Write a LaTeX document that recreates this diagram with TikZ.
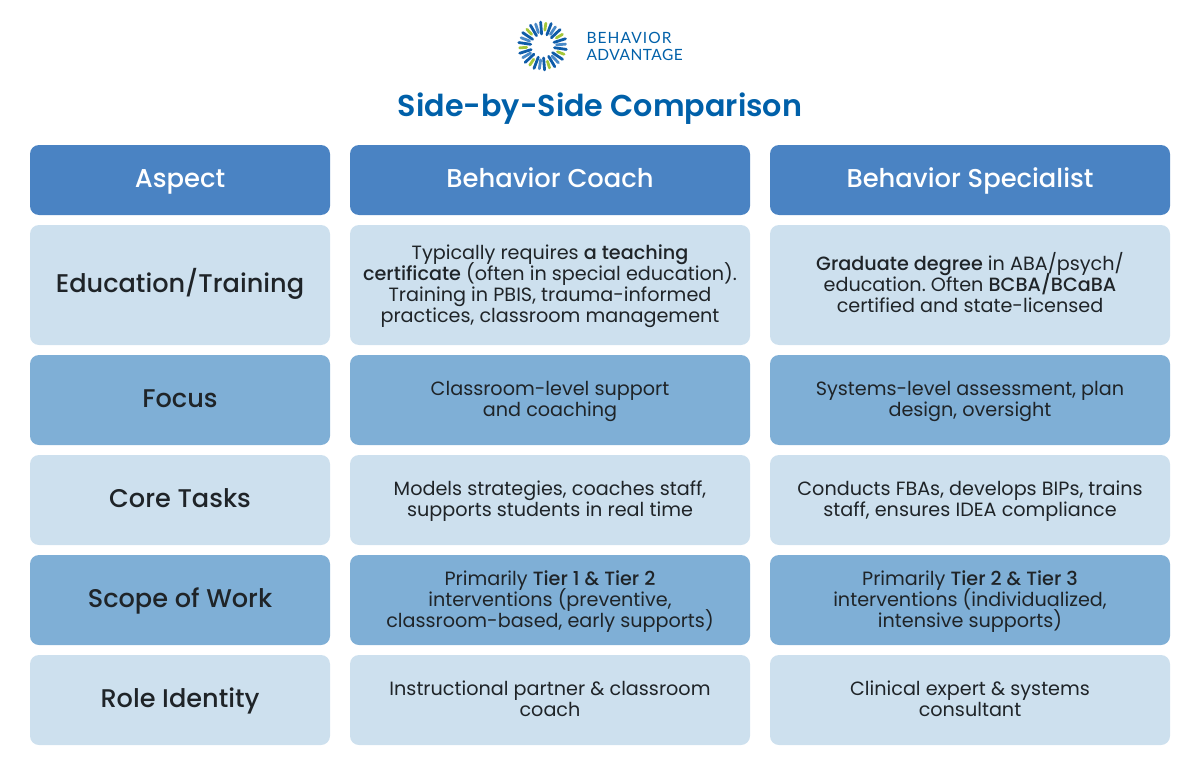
\documentclass[tikz,border=0pt]{standalone}
\usepackage{fontspec}
\setmainfont{Poppins}[BoldFont={Poppins Medium}]
\newfontfamily\medfont{Poppins Medium}
\newfontfamily\semifont{Poppins SemiBold}
\newfontfamily\logofont{Lato}
\frenchspacing
\definecolor{headblue}{HTML}{4A83C3}
\definecolor{lightblue}{HTML}{CDE0EE}
\definecolor{midblue}{HTML}{7FAFD6}
\definecolor{titleblue}{HTML}{0060A9}
\definecolor{inkdark}{HTML}{1F2428}
\definecolor{raydark}{HTML}{0F5CA8}
\definecolor{raymid}{HTML}{4A8AC8}
\definecolor{raygreen}{HTML}{A4C639}
\tikzset{
    cell/.style={rounded corners=9pt, inner sep=0pt, align=center, text=inkdark,
        execute at begin node={\lineskiplimit=-100pt},
        text depth=6.3pt, font=\fontsize{19.2}{21.1}\selectfont},
    rows/.style={text height={#1*21.1pt-2.3pt}},
    headcell/.style={cell, fill=headblue, text=white, minimum height=70pt,
        text height=23.6pt, text depth=8.4pt, font=\medfont\fontsize{25.8}{28}\selectfont},
    labelcell/.style={cell, minimum width=300pt, text height=23.6pt, text depth=8.4pt,
        font=\medfont\fontsize{25.6}{28}\selectfont},
    lightcell/.style={fill=lightblue},
    midcell/.style={fill=midblue}
}
\begin{document}
\begin{tikzpicture}[x=1pt, y=-1pt]
    \useasboundingbox (0,0) rectangle (1200,760);
    % logo rays
    \begin{scope}[shift={(542.6,46)}]
    \foreach \k in {0,...,6} {
        \foreach \n/\rin/\rout/\col in {1/12/24/raydark, 2/14/23/raymid, 3/12/24/raydark, 0/16/23/raygreen} {
            \draw[\col, line width=2.8pt, line cap=round]
                ({21+\k*51.43+\n*12.86}:\rin) -- ({21+\k*51.43+\n*12.86}:\rout);
        }
    }
    \end{scope}
    \node[anchor=west, text=titleblue, font=\logofont\fontsize{15.5}{18}\selectfont] (brandtop) at (583,37.5) {\addfontfeature{LetterSpace=7}BEHAVIOR};
    \node[anchor=west, text=titleblue, font=\logofont\fontsize{15.5}{18}\selectfont] (brandbottom) at (583,54.5) {\addfontfeature{LetterSpace=3}ADVANTAGE};
    \node[text=titleblue, font=\semifont\fontsize{30.2}{34}\selectfont] (title) at (600,109) {Side-by-Side Comparison};
    % header row
    \node[headcell, minimum width=300pt] (aspect) at (180,180) {Aspect};
    \node[headcell, minimum width=400pt] (coach) at (550,180) {Behavior Coach};
    \node[headcell, minimum width=400pt] (specialist) at (970,180) {Behavior Specialist};
    % education
    \node[labelcell, lightcell, minimum height=120pt] (edulabel) at (180,285) {Education/Training};
    \node[cell, rows=4, lightcell, minimum width=400pt, minimum height=120pt] (educoach) at (550,285) {Typically requires \textbf{a teaching}\\\textbf{certificate} (often in special education).\\Training in PBIS, trauma-informed\\practices, classroom management};
    \node[cell, rows=3, lightcell, minimum width=400pt, minimum height=120pt] (eduspec) at (970,285) {\textbf{Graduate degree} in ABA/psych/\\education. Often \textbf{BCBA/BCaBA}\\certified and state-licensed};
    % focus
    \node[labelcell, midcell, minimum height=90pt] (focuslabel) at (180,400) {Focus};
    \node[cell, rows=2, midcell, minimum width=400pt, minimum height=90pt] (focuscoach) at (550,400) {Classroom-level support\\and coaching};
    \node[cell, rows=2, midcell, minimum width=400pt, minimum height=90pt] (focusspec) at (970,400) {Systems-level assessment, plan\\design, oversight};
    % core tasks
    \node[labelcell, lightcell, minimum height=90pt] (taskslabel) at (180,500) {Core Tasks};
    \node[cell, rows=2, lightcell, minimum width=400pt, minimum height=90pt] (taskscoach) at (550,500) {Models strategies, coaches staff,\\supports students in real time};
    \node[cell, rows=2, lightcell, minimum width=400pt, minimum height=90pt] (tasksspec) at (970,500) {Conducts FBAs, develops BIPs, trains\\staff, ensures IDEA compliance};
    % scope of work
    \node[labelcell, midcell, minimum height=90pt] (scopelabel) at (180,600) {Scope of Work};
    \node[cell, rows=3, midcell, minimum width=400pt, minimum height=90pt] (scopecoach) at (550,600) {Primarily \textbf{Tier 1 \& Tier 2}\\interventions (preventive,\\classroom-based, early supports)};
    \node[cell, rows=3, midcell, minimum width=400pt, minimum height=90pt] (scopespec) at (970,600) {Primarily \textbf{Tier 2 \& Tier 3}\\interventions (individualized,\\intensive supports)};
    % role identity
    \node[labelcell, lightcell, minimum height=90pt] (rolelabel) at (180,700) {Role Identity};
    \node[cell, rows=2, lightcell, minimum width=400pt, minimum height=90pt] (rolecoach) at (550,700) {Instructional partner \& classroom\\coach};
    \node[cell, rows=2, lightcell, minimum width=400pt, minimum height=90pt] (rolespec) at (970,700) {Clinical expert \& systems\\consultant};
\end{tikzpicture}
\end{document}
